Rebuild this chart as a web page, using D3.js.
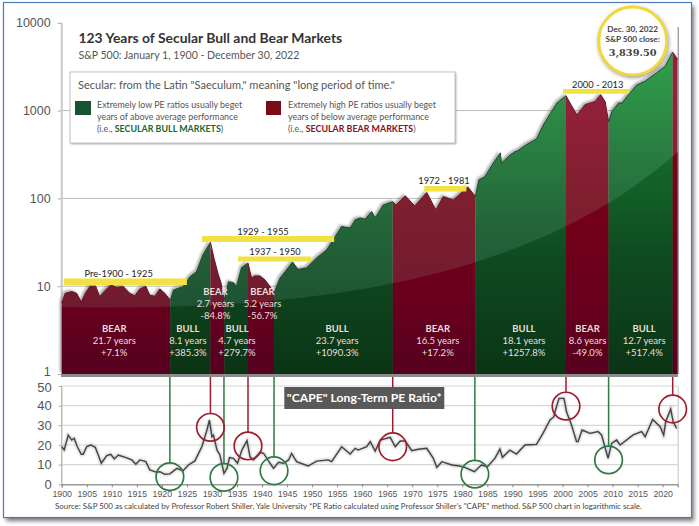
<!DOCTYPE html>
<html>
<head>
<meta charset="utf-8">
<script src="https://cdn.jsdelivr.net/npm/d3@7"></script>
<style>
	body { margin: 0; background: #fff; }
	text { font-family: Lato, sans-serif; }
	.tick text { font-family: "Liberation Sans", sans-serif; }
	.domain { display: none; }
</style>
</head>
<body>
<svg id="chart" width="699" height="526"></svg>
<script>
// S&P 500
var priceYears = [1900,1900.7,1902,1903,1903.9,1904.7,1905.6,1906.8,1907.6,1908.6,1909.8,1911,1912.3,1913.6,1914.6,1915.6,1916.8,1917.6,1918.6,1919.6,1920.6,1921.7,
	1922.3,1923.3,1924.2,1925.6,1926.9,1928.2,1929.7,
	1930.4,1931.2,1931.8,1932.5,
	1933.3,1934.3,1934.9,1935.9,1937.2,
	1937.9,1938.6,1939.6,1940.6,1941.6,1942.4,
	1943.6,1944.6,1946.1,1947.2,1948.9,1950.9,1952.9,1954.2,1955.9,1957.6,1958.6,1959.6,1960.6,1961.9,1962.6,1964.2,1966.1,
	1966.7,1968.6,1970.5,1972.9,1974.7,1976.2,1978.2,1981.1,1982.6,
	1983.3,1984.5,1986.2,1987.6,1987.8,1989.5,1990.5,1991.1,1992.8,1994.8,1996.2,1997.6,1998.9,2000.7,
	2001.5,2002.9,2004.5,2006.5,2007.6,2008.5,2009.2,
	2009.9,2011.2,2011.9,2012.9,2014.8,2016.5,2018.8,2019.5,2020.5,2022,2023]
var priceValues = [6.4,8.3,8.7,8.3,6.6,8.3,9.9,10,7.6,8.9,10.3,9.7,9.9,8.3,7.8,9.3,10,7.9,7.7,9.3,8.3,6.9,
	9,9.5,9.8,12.8,14.6,22.7,31.6,
	21,14,11,7,
	11.2,11,9.9,16.2,18.4,
	12.4,13.1,13.1,11.8,9.9,8.4,
	12.4,14.6,18.9,15.5,16.2,21,25.9,33.7,47.8,46,57,60,58,71,60,84,92,
	84,107,82,117,74,105,96,135,105,
	162,177,253,330,253,310,340,350,410,475,690,930,1220,1480,
	1220,890,1170,1270,1520,1270,745,
	980,1220,1220,1450,1950,2160,2690,2900,3180,4630,3839.5]

// Shiller CAPE
var capeYears = [1900,1900.5,1901.3,1902,1902.5,1903.1,1903.9,1904.3,1905,1905.8,1906.7,1907.3,1907.9,1909,1909.8,1910.5,1911.3,1912.7,1914,1914.8,1915.6,1916.8,1917.6,1919,1919.6,1920.6,1921.6,1923,1924.2,1925.3,1926.6,1928,1929,1929.5,1930,1930.3,1931,1931.6,1932.4,1933,1933.5,1934.3,1935.1,1936,1937,1937.6,1938.3,1939.6,1940.3,1941.6,1942.3,1943.3,1944.3,1945.3,1945.9,1946.9,1949.2,1950.9,1953.2,1953.9,1955.9,1957.6,1958.6,1959.2,1960.9,1961.6,1962.6,1963.6,1965.6,1966.6,1967.6,1968.6,1969.9,1971.2,1972.9,1974.2,1974.9,1975.9,1977.9,1979.5,1980.5,1982.4,1983.8,1985,1986.5,1987.5,1988,1989.5,1990.8,1992.5,1994.8,1996.1,1997.5,1998.3,1998.5,1999.3,2000.3,2000.8,2001.8,2002.8,2003.1,2003.9,2005.5,2007.1,2007.8,2009.1,2009.8,2010.8,2011.5,2014.1,2015.8,2016.5,2018,2019.5,2020.2,2020.6,2021.6,2022.1,2022.8]
var capeValues = [19.2,17.5,25,22.5,23.4,19.2,15.3,15.3,19.2,20,18.8,14.9,10.7,14.6,15.3,12.9,14.9,13.7,12.4,10.2,12.4,11.5,7.3,6.1,6.4,5.1,5.3,8.1,6.8,9.8,11.9,19.2,27.6,32.7,24.2,25,17.5,14.9,5.6,8.1,13.6,13.2,10.7,17.5,22.2,14,12.4,16.3,15.8,10.7,8.1,11.2,10.7,12.4,15.7,11.5,9.3,11.8,12.4,11.5,19.1,15.4,18.3,17.4,19.1,21.7,16.9,22.5,23.9,19.1,22,22,17.1,17.8,18.3,13.2,8.6,11.5,9.8,9.3,8.6,6.4,9.8,9,13.2,17.9,13.7,17.4,15.4,20,20.3,25.9,32.7,34.4,36.9,43.7,43.7,36.9,30.2,21.7,21.7,27.6,25.9,26.8,25.1,13.2,20.8,22.5,20,25.1,26.8,24.2,33,29.3,25,31.8,38.3,31.8,28.4]

// secular bands
var bandEdges = [1900,1921.7,1929.7,1932.5,1937.2,1942.4,1966.1,1982.6,2000.7,2009.2,2022,2023]
var bandTypes = ['BEAR','BULL','BEAR','BULL','BEAR','BULL','BEAR','BULL','BEAR','BULL','BEAR']
var bandYearsText = ['21.7 years','8.1 years','2.7 years','4.7 years','5.2 years','23.7 years','16.5 years','18.1 years','8.6 years','12.7 years','']
var bandGains = ['+7.1%','+385.3%','-84.8%','+279.7%','-56.7%','+1090.3%','+17.2%','+1257.8%','-49.0%','+517.4%','']

// circles on the CAPE line, one per band edge
var circleYears = [1921.6,1929.7,1932.4,1937.2,1942.4,1966.1,1982.5,2000.7,2009.2,2022]
var circleCape = [3.9,29,3.5,19.5,6.9,19.1,5.2,39.8,12.4,38.3]
var circleTypes = ['BULL','BEAR','BULL','BEAR','BULL','BEAR','BULL','BEAR','BULL','BEAR']

// yellow period bars
var periodLabels = ['Pre-1900 - 1925','1929 - 1955','1937 - 1950','1972 - 1981','2000 - 2013']
var periodStarts = [1900.4,1928,1935.2,1972.4,2000.1]
var periodEnds = [1925,1954.4,1949.8,1980.8,2013.3]

var priceTicks = [1,10,100,1000,10000]
var capeTicks = [0,10,20,30,40,50]
var yearTicks = d3.range(1900,2021,5)

var svg = d3.select('#chart')
var defs = svg.append('defs')

var x = d3.scaleLinear().domain([1900,2023]).range([61.7,677.7])
var yPrice = d3.scaleLog().domain([1,10000]).range([374,22.8])
var yCape = d3.scaleLinear().domain([0,50]).range([484.3,386])

var prices = priceYears.map(function(d, i) { return { year: d, value: priceValues[i] } })
var capes = capeYears.map(function(d, i) { return { year: d, value: capeValues[i] } })
var bands = bandTypes.map(function(d, i) {
	return { type: d, start: bandEdges[i], end: bandEdges[i+1], years: bandYearsText[i], gain: bandGains[i] }
})

var addGradient = function(id, stops) {
	var g = defs.append('linearGradient').attr('id', id)
		.attr('gradientUnits', 'userSpaceOnUse')
		.attr('x1', 0).attr('x2', 0).attr('y1', stops[0][0]).attr('y2', stops[stops.length-1][0])
	stops.forEach(function(s) {
		g.append('stop')
			.attr('offset', (s[0]-stops[0][0])/(stops[stops.length-1][0]-stops[0][0]))
			.attr('stop-color', s[1])
	})
}
addGradient('bullLight', [[50,'#2fa24b'],[130,'#2b8444'],[230,'#236439'],[320,'#1d5030']])
addGradient('bullDark', [[150,'#146b2b'],[260,'#0f4a20'],[374,'#0b3415']])
addGradient('bearLight', [[90,'#96203c'],[200,'#7f1f2e'],[320,'#6e1a30']])
addGradient('bearDark', [[160,'#7e0016'],[300,'#68001e'],[374,'#560020']])

var blur = function(id, amount) {
	defs.append('filter').attr('id', id)
		.attr('x', '-10%').attr('y', '-10%').attr('width', '120%').attr('height', '120%')
		.append('feGaussianBlur').attr('stdDeviation', amount)
}
blur('soft1', 1.2)
blur('soft2', 2)

var area = d3.area()
	.x(function(d) { return x(d.year) })
	.y0(yPrice(1))
	.y1(function(d) { return yPrice(d.value) })
var line = d3.line()
	.x(function(d) { return x(d.year) })
	.y(function(d) { return yPrice(d.value) })

defs.append('clipPath').attr('id', 'areaClip').append('path').attr('d', area(prices))
// glossy arc, below it the colours go dark
defs.append('clipPath').attr('id', 'arcClip').append('path')
	.attr('d', 'M61,307 C300,312 530,285 680,150 L680,380 L61,380 Z')

// picture frame
svg.append('rect').attr('x', 6).attr('y', 6).attr('width', 688).attr('height', 515)
	.attr('fill', '#777').attr('filter', 'url(#soft2)')
svg.append('rect').attr('x', 3.5).attr('y', 2.5).attr('width', 688).attr('height', 515)
	.attr('fill', '#fff').attr('stroke', '#4a7ebb').attr('stroke-width', 1.2)

// top axis
var priceAxis = svg.append('g').attr('transform', 'translate(61.7,0)')
	.call(d3.axisLeft(yPrice).tickValues(priceTicks).tickFormat(d3.format('d')).tickSize(4))
priceAxis.selectAll('.tick line').attr('stroke', '#aaa')
priceAxis.selectAll('.tick text').attr('x', -11).attr('fill', '#555').style('font-size', '12.5px')
	.attr('dy', function(d) { return d == 1 ? '0.1em' : '0.32em' })

svg.append('g').selectAll('line').data(priceTicks.slice(1,4)).enter().append('line')
	.attr('x1', x(1900)).attr('x2', x(2023))
	.attr('y1', function(d) { return yPrice(d) }).attr('y2', function(d) { return yPrice(d) })
	.attr('stroke', '#bbb').attr('stroke-width', 1)
svg.append('line').attr('x1', 61.7).attr('x2', 61.7).attr('y1', yPrice(10000)).attr('y2', yPrice(1))
	.attr('stroke', '#c8c8c8').attr('stroke-width', 2)
svg.append('line').attr('x1', 678.2).attr('x2', 678.2).attr('y1', 27).attr('y2', yPrice(1))
	.attr('stroke', '#777').attr('stroke-width', 1)

// legend box
var legend = svg.append('g')
legend.append('rect').attr('x', 71).attr('y', 73).attr('width', 385).attr('height', 71)
	.attr('fill', '#999').attr('filter', 'url(#soft1)')
legend.append('rect').attr('x', 70).attr('y', 72).attr('width', 385).attr('height', 71)
	.attr('fill', '#fff').attr('stroke', '#c4c4c4')
legend.append('text').attr('x', 78).attr('y', 88.5).attr('fill', '#555').style('font-size', '11.05px')
	.text('Secular: from the Latin "Saeculum," meaning "long period of time."')
legend.append('rect').attr('x', 75).attr('y', 101).attr('width', 16).attr('height', 14).attr('fill', '#17532e')
legend.append('rect').attr('x', 266).attr('y', 101).attr('width', 15).attr('height', 14).attr('fill', '#7b0a18')
var legendLines = function(lx, a, b, strong, color) {
	legend.append('text').attr('x', lx).attr('y', 108).attr('fill', '#555').style('font-size', '8.9px').text(a)
	legend.append('text').attr('x', lx).attr('y', 120).attr('fill', '#555').style('font-size', '8.9px').text(b)
	var t = legend.append('text').attr('x', lx).attr('y', 132).attr('fill', '#555').style('font-size', '8.9px')
	t.append('tspan').text('(i.e., ')
	t.append('tspan').attr('fill', color).style('font-weight', 'bold').text(strong)
	t.append('tspan').text(')')
}
legendLines(97, 'Extremely low PE ratios usually beget', 'years of above average performance', 'SECULAR BULL MARKETS', '#17672f')
legendLines(288, 'Extremely high PE ratios usually beget', 'years of below average performance', 'SECULAR BEAR MARKETS', '#8a1020')

// shadow behind the price curve
svg.append('path').attr('d', area(prices)).attr('fill', '#555').attr('opacity', 0.45)
	.attr('transform', 'translate(-2,-2)').attr('filter', 'url(#soft1)')

// coloured bands cut to the curve
var clipped = svg.append('g').attr('clip-path', 'url(#areaClip)')
var drawBands = function(parent, suffix) {
	parent.selectAll('.band' + suffix).data(bands).enter().append('rect')
		.attr('class', 'band' + suffix)
		.attr('x', function(d) { return x(d.start) })
		.attr('width', function(d) { return x(d.end) - x(d.start) })
		.attr('y', 0).attr('height', yPrice(1))
		.attr('fill', function(d) { return 'url(#' + (d.type == 'BULL' ? 'bull' : 'bear') + suffix + ')' })
}
drawBands(clipped, 'Light')
drawBands(clipped.append('g').attr('clip-path', 'url(#arcClip)'), 'Dark')

// edge of the curve
bands.forEach(function(b) {
	svg.append('path')
		.attr('d', line(prices.filter(function(d) { return d.year >= b.start && d.year <= b.end })))
		.attr('fill', 'none').attr('stroke', b.type == 'BULL' ? '#1b4a2a' : '#6d1526').attr('stroke-width', 1)
})

// grey floor under the top chart
svg.append('rect').attr('x', 61).attr('y', yPrice(1)).attr('width', 617).attr('height', 3).attr('fill', '#8c8c8c')

// band labels
var bandText = svg.append('g').attr('text-anchor', 'middle').attr('fill', '#eadfdc').style('font-size', '9.5px')
var labelCenters = [1910.5,1925.2,1930.7,1935,1940.1,1955,1975.1,1992.3,2005,2016.3]
var labelTop = [332,332,295,332,295,332,332,332,332,332]
bands.slice(0,10).forEach(function(b, i) {
	var cx = x(labelCenters[i])
	bandText.append('text').attr('x', cx).attr('y', labelTop[i]).style('font-weight', 'bold').text(b.type)
	bandText.append('text').attr('x', cx).attr('y', labelTop[i]+12).text(b.years)
	bandText.append('text').attr('x', cx).attr('y', labelTop[i]+24).text(b.gain)
})

// yellow period bars
var barY = [278.5,236,256.5,186,89]
var barH = [6.5,6,5,5.5,4.7]
var labelY = [277,235,255,184,88]
var labelX = [118.7,263,275,444,597.7]
periodLabels.forEach(function(label, i) {
	svg.append('rect').attr('x', x(periodStarts[i])).attr('width', x(periodEnds[i]) - x(periodStarts[i]))
		.attr('y', barY[i]).attr('height', barH[i]).attr('fill', '#f1e142')
	svg.append('text').attr('x', labelX[i]).attr('y', labelY[i]).attr('text-anchor', 'middle')
		.attr('fill', '#222').style('font-size', '9.3px').text(label)
})

// lower chart
var capeGrid = svg.append('g')
capeGrid.selectAll('line').data(capeTicks.slice(1)).enter().append('line')
	.attr('x1', x(1900)).attr('x2', x(2023))
	.attr('y1', function(d) { return yCape(d) }).attr('y2', function(d) { return yCape(d) })
	.attr('stroke', '#d6d6d6').attr('stroke-width', 1.2)
svg.append('line').attr('x1', 678.2).attr('x2', 678.2).attr('y1', yCape(50)).attr('y2', yCape(0))
	.attr('stroke', '#ccc').attr('stroke-width', 1.2)
svg.append('line').attr('x1', 61.7).attr('x2', 61.7).attr('y1', yCape(50)).attr('y2', yCape(0))
	.attr('stroke', '#bbb').attr('stroke-width', 1.5)

var capeAxis = svg.append('g').attr('transform', 'translate(61.7,0)')
	.call(d3.axisLeft(yCape).tickValues(capeTicks).tickSize(3))
capeAxis.selectAll('.tick line').attr('stroke', '#aaa')
capeAxis.selectAll('.tick text').attr('x', -10).attr('fill', '#555').style('font-size', '13px')
	.attr('dy', function(d) { return d == 50 ? '0.42em' : '0.32em' })

var yearAxis = svg.append('g').attr('transform', 'translate(0,' + yCape(0) + ')')
	.call(d3.axisBottom(x).tickValues(yearTicks).tickFormat(d3.format('d')).tickSize(3))
yearAxis.selectAll('.tick line').attr('stroke', '#888')
yearAxis.selectAll('.tick text').attr('y', 6).attr('fill', '#555').style('font-size', '8.8px')
yearAxis.select('.domain').style('display', 'inline').attr('stroke', '#999').attr('stroke-width', 1.5)

var capeLine = d3.line()
	.x(function(d) { return x(d.year) })
	.y(function(d) { return yCape(d.value) })
svg.append('path').attr('d', capeLine(capes)).attr('fill', 'none')
	.attr('stroke', '#999').attr('stroke-width', 3).attr('opacity', 0.5).attr('filter', 'url(#soft1)')
svg.append('path').attr('d', capeLine(capes)).attr('fill', 'none')
	.attr('stroke', '#444').attr('stroke-width', 1.4)

// connectors and circles
var circleR = 13.8
var marks = circleYears.map(function(d, i) { return { year: d, cape: circleCape[i], type: circleTypes[i] } })
var markColor = function(d) { return d.type == 'BULL' ? '#2f7a42' : '#a01c28' }
svg.append('g').selectAll('line').data(marks).enter().append('line')
	.attr('x1', function(d) { return x(d.year) }).attr('x2', function(d) { return x(d.year) })
	.attr('y1', yPrice(1) + 3)
	.attr('y2', function(d) { return yCape(d.cape) - circleR })
	.attr('stroke', markColor).attr('stroke-width', 1.5)
svg.append('g').selectAll('circle').data(marks).enter().append('circle')
	.attr('cx', function(d) { return x(d.year) })
	.attr('cy', function(d) { return yCape(d.cape) })
	.attr('r', circleR)
	.attr('fill', 'none').attr('stroke', markColor).attr('stroke-width', 1.7)

// CAPE label
svg.append('rect').attr('x', 284.3).attr('y', 387).attr('width', 160).attr('height', 22).attr('fill', '#595959')
svg.append('text').attr('x', 364.3).attr('y', 402).attr('text-anchor', 'middle').attr('fill', '#fff')
	.style('font-size', '12.2px').style('font-weight', 'bold').text('"CAPE" Long-Term PE Ratio*')

// titles
svg.append('text').attr('x', 78.5).attr('y', 43).attr('fill', '#333')
	.style('font-size', '13.9px').style('font-weight', 'bold').text('123 Years of Secular Bull and Bear Markets')
svg.append('text').attr('x', 78.5).attr('y', 58.5).attr('fill', '#555')
	.style('font-size', '10.55px').text('S&P 500: January 1, 1900 - December 30, 2022')
svg.append('text').attr('x', 348.5).attr('y', 509).attr('text-anchor', 'middle').attr('fill', '#444')
	.style('font-size', '7.9px')
	.text('Source: S&P 500 as calculated by Professor Robert Shiller, Yale University   *PE Ratio calculated using Professor Shiller\'s "CAPE" method. S&P 500 chart in logarithmic scale.')

// closing value badge
svg.append('circle').attr('cx', 633.5).attr('cy', 42.5).attr('r', 35).attr('fill', '#888').attr('filter', 'url(#soft2)')
svg.append('circle').attr('cx', 632.7).attr('cy', 41).attr('r', 34).attr('fill', '#fff')
	.attr('stroke', '#f2d93a').attr('stroke-width', 3)
svg.append('text').attr('x', 632.7).attr('y', 31.5).attr('text-anchor', 'middle').attr('fill', '#444')
	.style('font-size', '8.2px').style('font-weight', 'bold').text('Dec. 30, 2022')
svg.append('text').attr('x', 632.7).attr('y', 42).attr('text-anchor', 'middle').attr('fill', '#444')
	.style('font-size', '8.2px').style('font-weight', 'bold').text('S&P 500 close:')
svg.append('text').attr('x', 632.7).attr('y', 56).attr('text-anchor', 'middle').attr('fill', '#444')
	.style('font-family', '"DejaVu Serif", serif').style('font-size', '9.8px').style('font-weight', 'bold').text('3,839.50')
</script>
</body>
</html>
